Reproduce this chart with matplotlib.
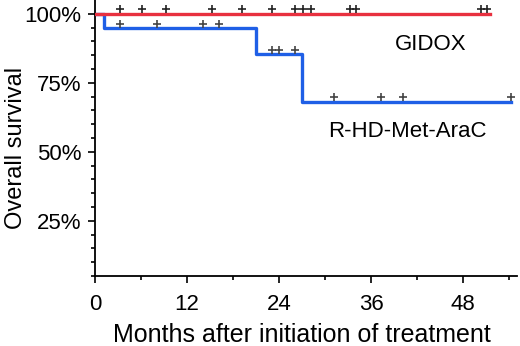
import numpy as np
import matplotlib
matplotlib.use('Agg')
import matplotlib.pyplot as plt
import matplotlib.transforms as mtransforms

plt.rcParams['font.family'] = ['Liberation Sans', 'DejaVu Sans']

# GIDOX arm: no events, censored times (months)
gidox_end = 51.5
gidox_cens = [3.2, 6.1, 9.2, 15.2, 19.1, 23.1, 26.1, 27.1, 28.2, 33.2, 34.0, 50.3, 51.1]

# R-HD-Met-AraC arm: step curve
rhd_times = [0, 1.2, 21.0, 27.0, 54.2]
rhd_surv = [100, 94.7, 85.3, 68.2, 68.2]
rhd_cens_t = [3.2, 8.1, 14.1, 16.2, 23.1, 24.0, 26.0, 31.2, 37.3, 40.2, 54.2]
rhd_cens_s = [94.7, 94.7, 94.7, 94.7, 85.3, 85.3, 85.3, 68.2, 68.2, 68.2, 68.2]

fig = plt.figure(figsize=(5.2, 3.46), dpi=100)
ax = fig.add_axes([0.183, 0.202, 0.811, 0.798])

ax.step(rhd_times, rhd_surv, where='post', color='#1f5fe6', lw=2.4, zorder=2)
ax.plot([0, gidox_end], [100, 100], color='#e8303f', lw=2.4, zorder=3)

# censor marks sit a little above the line
up = mtransforms.offset_copy(ax.transData, fig=fig, x=0, y=3.5, units='points')
ax.plot(gidox_cens, [100] * len(gidox_cens), '+', color='#222222', ms=6, mew=1.2,
        transform=up, zorder=4)
ax.plot(rhd_cens_t, rhd_cens_s, '+', color='#444444', ms=6, mew=1.2,
        transform=up, zorder=4)

# group labels, placed in figure pixels (measured from top)
fig.text(395 / 520, 1 - 45 / 346, 'GIDOX', fontsize=16, va='center')
fig.text(328 / 520, 1 - 132 / 346, 'R-HD-Met-AraC', fontsize=16, va='center')

ax.set_xlim(0, 55)
ax.set_ylim(5, 105)
ax.set_xticks([0, 12, 24, 36, 48])
ax.set_xticks([6, 18, 30, 42, 54], minor=True)
ax.set_yticks([25, 50, 75, 100])
ax.set_yticklabels(['25%', '50%', '75%', '100%'])
ax.set_yticks(np.arange(5, 105, 5), minor=True)
ax.tick_params(which='major', direction='out', length=5, width=1.2, labelsize=16,
               colors='black', pad=5)
ax.tick_params(axis='x', which='major', pad=8)
ax.tick_params(which='minor', direction='out', length=3, width=1.2)

for s in ['top', 'right']:
    ax.spines[s].set_visible(False)
for s in ['left', 'bottom']:
    ax.spines[s].set_linewidth(1.3)

ax.set_xlabel('Months after initiation of treatment', fontsize=18)
ax.xaxis.set_label_coords(302 / 520, 1 - 323 / 346, transform=fig.transFigure)
ax.set_ylabel('Overall survival', fontsize=17)
ax.yaxis.set_label_coords(27 / 520, 1 - 148 / 346, transform=fig.transFigure)

fig.savefig('out.png', dpi=100)
